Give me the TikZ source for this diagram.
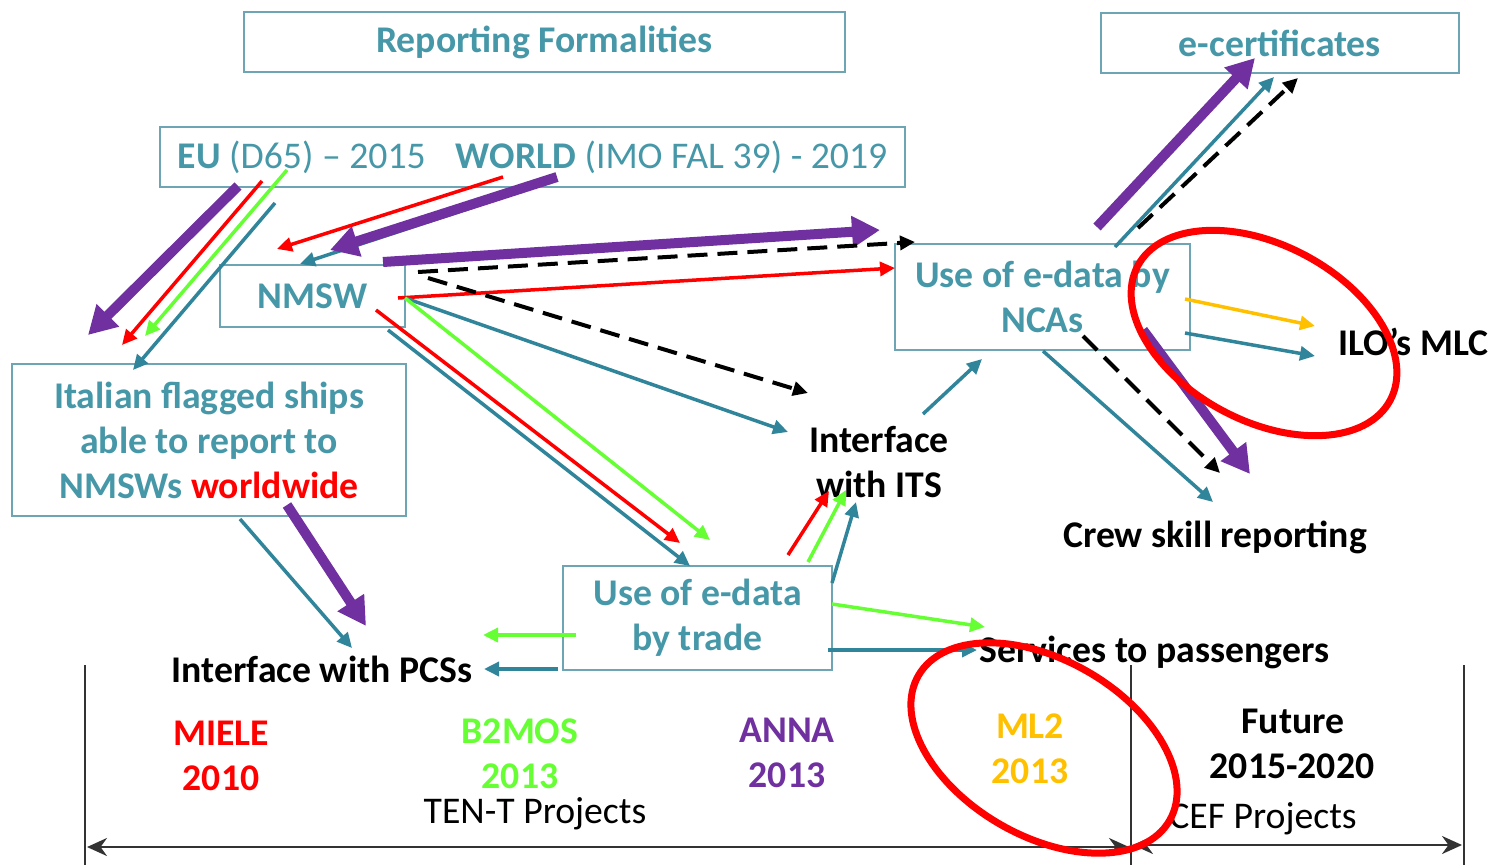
\documentclass[tikz,border=0pt]{standalone}
\usepackage{fontspec}
\setmainfont{Carlito}
\usetikzlibrary{calc, arrows.meta}
\definecolor{myteal}{RGB}{49, 133, 155}
\definecolor{mytealtxt}{RGB}{70, 152, 168}
\definecolor{myboxline}{RGB}{110, 165, 180}
\definecolor{mypurple}{RGB}{112, 48, 160}
\definecolor{mygreen}{RGB}{102, 255, 51}
\definecolor{myorange}{RGB}{255, 192, 0}
\newcommand{\bigfont}{\fontsize{37.7}{45}\selectfont}

\begin{document}
\begin{tikzpicture}[
    x = 1pt, y = -1pt,
    box/.style = {draw = myboxline, line width = 2pt, text = mytealtxt, font = \bfseries\bigfont, align = center, inner sep = 0pt, outer sep = 0pt},
    lbl/.style = {font = \bfseries\bigfont, inner sep = 0pt, anchor = base},
    ar/.style = {line width = 3.5pt, -{Triangle[length = 15pt, width = 14pt]}},
    arfat/.style = {mypurple, line width = 10pt, -{Triangle[length = 28pt, width = 30pt]}},
    ardash/.style = {ar, black, line width = 4pt, dash pattern = on 20pt off 10pt},
    tl/.style = {line width = 2.5pt, black!80}
]
\useasboundingbox (0,0) rectangle (1509,865);

\node[box, minimum width = 601pt, minimum height = 60pt] (rep) at (544.5, 42) {Reporting Formalities};
\node[box, font = \bigfont, minimum width = 745pt, minimum height = 60pt] (eu) at (532.5, 157) {\textbf{EU} (D65) -- 2015\hspace{0.8em}\textbf{WORLD} (IMO FAL 39) - 2019};
\node[box, minimum width = 358pt, minimum height = 60pt] (ecert) at (1280, 43) {e-certificates};
\node[box, minimum width = 185pt, minimum height = 62pt] (nmsw) at (312.5, 296) {NMSW};
\node[box, minimum width = 394pt, minimum height = 152pt] (ita) at (209, 440) {Italian flagged ships\\able to report to\\NMSWs \textcolor{red}{worldwide}};
\node[box, minimum width = 295pt, minimum height = 106pt] (nca) at (1042.5, 297) {Use of e-data by\\NCAs};
\node[box, minimum width = 269pt, minimum height = 104pt] (trade) at (697.5, 618) {Use of e-data\\by trade};

\node[lbl, anchor = center, align = center] (its) at (879, 462) {Interface\\with ITS};
\node[lbl] (pcs) at (322, 682) {Interface with PCSs};
\node[lbl, anchor = base west] (ilo) at (1338, 355) {ILO's MLC};
\node[lbl] (crew) at (1215, 547) {Crew skill reporting};
\node[lbl, anchor = base west] (serv) at (979, 662) {Services to passengers};

\node[lbl, red] (miele) at (221, 745) {MIELE};
\node[lbl, red] (miele-yr) at (221, 790) {2010};
\node[lbl, mygreen] (b2mos) at (520, 743) {B2MOS};
\node[lbl, mygreen] (b2mos-yr) at (520, 788) {2013};
\node[lbl, mypurple] (anna) at (787, 742) {ANNA};
\node[lbl, mypurple] (anna-yr) at (787, 787) {2013};
\node[lbl, myorange] (ml2) at (1030, 738) {ML2};
\node[lbl, myorange] (ml2-yr) at (1030, 783) {2013};
\node[lbl, font = \bigfont] (tent) at (535, 823) {TEN-T Projects};
\node[lbl] (future) at (1293, 733) {Future};
\node[lbl] (future-yr) at (1292, 778) {2015-2020};
\node[lbl, font = \bigfont] (cef) at (1263, 828) {CEF Projects};

\draw[arfat] ($(eu.south west)+(78,-1)$) -- ($(ita.north west)+(76,-29)$);
\draw[ar, red] ($(eu.south west)+(102,-6)$) -- ($(ita.north west)+(110,-19)$);
\draw[ar, mygreen] ($(eu.south west)+(127,-17)$) -- ($(ita.north west)+(133,-28)$);
\draw[ar, myteal] ($(eu.south west)+(115,16)$) -- ($(ita.north west)+(121,6)$);

\draw[ar, red] ($(eu.south west)+(343,-10)$) -- ($(nmsw.north west)+(57,-16)$);
\draw[ar, myteal] ($(eu.south west)+(365,3)$) -- ($(nmsw.north west)+(80,-1)$);
\draw[arfat] ($(eu.south west)+(397,-10)$) -- ($(nmsw.north west)+(110,-15)$);

\draw[arfat] ($(nmsw.north east)+(-22,-3)$) -- ($(nca.north west)+(-15,-14)$);
\draw[ardash] ($(nmsw.north east)+(13,7)$) -- ($(nca.north west)+(20,-2)$);
\draw[ar, red] ($(nmsw.east)+(-7,2)$) -- ($(nca.north west)+(0,24)$);
\draw[ardash] ($(nmsw.north east)+(23,13)$) -- ($(its.center)+(-71,-69)$);
\draw[ar, myteal] ($(nmsw.east)+(0,2)$) -- ($(its.center)+(-91,-30)$);
\draw[ar, mygreen] ($(nmsw.east)+(0,2)$) -- ($(trade.north)+(12.5,-26)$);
\draw[ar, red] ($(nmsw.south east)+(-29,-17)$) -- ($(trade.north)+(-17.5,-23)$);
\draw[ar, myteal] ($(nmsw.south east)+(-17,3)$) -- ($(trade.north)+(-7.5,0)$);

\draw[ar, red] ($(trade.north east)+(-44,-11)$) -- ($(its.center)+(-50,29)$);
\draw[ar, mygreen] ($(trade.north east)+(-24,-4)$) -- ($(its.center)+(-33,28)$);
\draw[ar, myteal] ($(trade.north east)+(0,17)$) -- ($(its.center)+(-23,40)$);
\draw[ar, myteal] ($(its.center)+(44,-48)$) -- ($(nca.south west)+(87,9)$);

\draw[arfat] ($(nca.north west)+(202,-17)$) -- ($(ecert.south west)+(154,-15)$);
\draw[ar, myteal] ($(nca.north west)+(220,3)$) -- ($(ecert.south west)+(173,4)$);
\draw[ardash] ($(nca.north west)+(243,-16)$) -- ($(ecert.south west)+(197,5)$);

\draw[ar, myorange] ($(nca.east)+(-5,2)$) -- ($(ilo.base west)+(-23,-29)$);
\draw[ar, myteal] ($(nca.east)+(-5,36)$) -- ($(ilo.base west)+(-23,1)$);

\draw[ar, myteal] ($(nca.south)+(0.5,1)$) -- ($(crew.base)+(-2,-45)$);
\draw[ardash] ($(nca.south)+(40.5,-14)$) -- ($(crew.base)+(5,-74)$);
\draw[arfat] ($(nca.south)+(100.5,-20)$) -- ($(crew.base)+(35,-73)$);

\draw[ar, myteal] ($(ita.south)+(31,3)$) -- ($(pcs.base)+(30,-34)$);
\draw[arfat] ($(ita.south)+(78,-11)$) -- ($(pcs.base)+(44,-56)$);
\draw[ar, mygreen] ($(trade.west)+(13,17)$) -- ($(pcs.base)+(161,-47)$);
\draw[ar, myteal] ($(trade.south west)+(-5,-1)$) -- ($(pcs.base)+(162,-13)$);

\draw[ar, mygreen] ($(trade.east)+(0,-14)$) -- ($(serv.base west)+(6,-35)$);
\draw[ar, myteal] ($(trade.east)+(-4,32)$) -- ($(serv.base west)+(-2,-12)$);

\draw[tl] (85,665) -- (85,865);
\draw[tl] (1131,665) -- (1131,865);
\draw[tl] (1464,665) -- (1464,865);
\draw[tl, {Stealth[length = 20pt, width = 18pt]}-{Stealth[length = 20pt, width = 18pt]}] (87,847) -- (1129,847);
\draw[tl, {Stealth[length = 20pt, width = 18pt]}-{Stealth[length = 20pt, width = 18pt]}] (1133,845) -- (1462,845);

\draw[red, line width = 7pt, rotate around = {-28:(1264,333)}] (1264,333) ellipse [x radius = 143, y radius = 88];
\draw[red, line width = 7pt, rotate around = {-30:(1044,748)}] (1044,748) ellipse [x radius = 145, y radius = 88];
\end{tikzpicture}
\end{document}
